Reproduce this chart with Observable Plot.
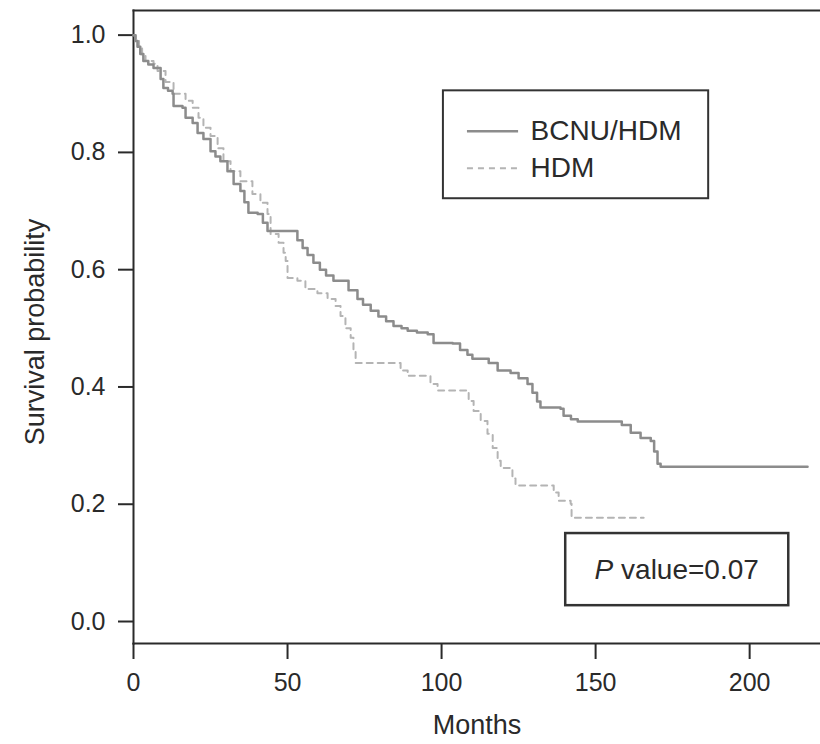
<!DOCTYPE html>
<html>
<head>
<meta charset="utf-8">
<script src="https://cdn.jsdelivr.net/npm/d3@7"></script>
<script src="https://cdn.jsdelivr.net/npm/@observablehq/plot@0.6"></script>
<style>
  html, body { margin: 0; padding: 0; background: #fff; }
  #chart svg { display: block; }
</style>
</head>
<body>
<div id="chart"></div>
<script>
// BCNU/HDM Kaplan–Meier steps (months, survival probability)
const bcnuMonths = [0, 0.6, 1.3, 2.2, 3.2, 4.8, 6.5, 8.8, 9.7, 11.2, 12.7, 13, 15.9, 16.9, 19.2, 20.8, 22.7, 25, 26.6, 28.2, 30.5, 32.5, 34.7, 36, 37.3, 40.3, 42, 43.5, 53.2, 54.9, 56.5, 58.4, 60.5, 62.5, 64.9, 69.8, 72.7, 74.5, 77, 79.5, 82, 84.4, 87, 89, 92, 95.5, 97.4, 103.6, 106, 108.4, 110, 115.3, 118.2, 122.4, 125, 127.9, 129.5, 131, 132.1, 138.6, 139.6, 142, 144.2, 158.5, 161.4, 164.6, 167.9, 169, 170.1, 171.1, 218.8];
const bcnuSurv   = [1.0, 0.99, 0.98, 0.968, 0.956, 0.95, 0.944, 0.925, 0.91, 0.905, 0.90, 0.879, 0.876, 0.859, 0.85, 0.833, 0.823, 0.802, 0.793, 0.785, 0.768, 0.746, 0.734, 0.715, 0.697, 0.695, 0.68, 0.666, 0.65, 0.637, 0.625, 0.612, 0.60, 0.59, 0.581, 0.565, 0.55, 0.54, 0.53, 0.52, 0.512, 0.504, 0.50, 0.496, 0.493, 0.49, 0.475, 0.474, 0.463, 0.455, 0.448, 0.441, 0.428, 0.424, 0.415, 0.405, 0.39, 0.375, 0.365, 0.363, 0.351, 0.345, 0.341, 0.335, 0.322, 0.313, 0.308, 0.29, 0.269, 0.264, 0.264];

// HDM Kaplan–Meier steps
const hdmMonths = [0, 0.8, 1.8, 2.8, 3.9, 6.5, 7.8, 10.4, 13, 16.9, 19.2, 21.1, 22.7, 25, 27.3, 29.2, 31.5, 34.7, 38.6, 41.2, 43.5, 44.5, 47.1, 48.7, 49.4, 50, 53.2, 55.8, 59.7, 63, 65.6, 67.2, 68.8, 70.5, 71.4, 72.1, 86.7, 89, 96.4, 98.7, 108.8, 110.4, 112.7, 114.9, 116.6, 118.2, 119.2, 123, 124, 136.4, 138, 141.9, 142.2, 165.6];
const hdmSurv   = [1.0, 0.99, 0.978, 0.967, 0.956, 0.951, 0.939, 0.92, 0.90, 0.888, 0.876, 0.859, 0.842, 0.828, 0.807, 0.785, 0.768, 0.751, 0.729, 0.714, 0.695, 0.661, 0.646, 0.629, 0.615, 0.586, 0.581, 0.567, 0.56, 0.55, 0.538, 0.521, 0.50, 0.484, 0.462, 0.441, 0.428, 0.419, 0.405, 0.394, 0.376, 0.359, 0.342, 0.32, 0.296, 0.274, 0.262, 0.244, 0.232, 0.22, 0.206, 0.201, 0.177, 0.177];

const xTicks = [0, 50, 100, 150, 200];
const yTicks = [0.0, 0.2, 0.4, 0.6, 0.8, 1.0];
const seriesNames = ["BCNU/HDM", "HDM"];
const xTitle = "Months";
const yTitle = "Survival probability";
const pValueText = "value=0.07";

// annotation boxes expressed in data units
const legendBox = {x1: 100.6, x2: 186.7, y1: 0.721, y2: 0.905};
const legendRows = [
  {name: seriesNames[0], x1: 108.4, x2: 125, y: 0.836},
  {name: seriesNames[1], x1: 108.4, x2: 125, y: 0.773}
];
const pBox = {x1: 140.3, x2: 212.7, y1: 0.027, y2: 0.150};

const bcnu = bcnuMonths.map((t, i) => ({t, s: bcnuSurv[i]}));
const hdm = hdmMonths.map((t, i) => ({t, s: hdmSurv[i]}));

const font = "'Liberation Sans', Arial, Helvetica, sans-serif";
const ink = "#2a2a2a";
const solidGray = "#8c8c8c";
const dashGray = "#b4b4b4";

const chart = Plot.plot({
  width: 820,
  height: 744,
  marginLeft: 133,
  marginRight: 0,
  marginTop: 10,
  marginBottom: 101,
  style: {fontFamily: font, fontSize: "24px", color: ink, background: "#fff"},
  x: {domain: [0, 223], label: null},
  y: {domain: [-0.0375, 1.042], label: null},
  marks: [
    Plot.frame({anchor: "top", stroke: ink, strokeWidth: 2}),
    Plot.frame({anchor: "left", stroke: ink, strokeWidth: 2}),
    Plot.frame({anchor: "bottom", stroke: ink, strokeWidth: 2}),
    Plot.axisX({ticks: xTicks, tickSize: 16, tickPadding: 14, stroke: ink, strokeWidth: 2, fontSize: 25, label: null}),
    Plot.axisY({ticks: yTicks, tickFormat: d3.format(".1f"), tickSize: 15, tickPadding: 13, stroke: ink, strokeWidth: 2, fontSize: 25, label: null}),
    Plot.line(hdm, {x: "t", y: "s", curve: "step-after", stroke: dashGray, strokeWidth: 2, strokeDasharray: "6,5"}),
    Plot.line(bcnu, {x: "t", y: "s", curve: "step-after", stroke: solidGray, strokeWidth: 2.5}),
    // legend box
    Plot.rect([legendBox], {x1: "x1", x2: "x2", y1: "y1", y2: "y2", fill: "#fff", stroke: "#333", strokeWidth: 2}),
    Plot.ruleY([legendRows[0]], {x1: "x1", x2: "x2", y: "y", stroke: solidGray, strokeWidth: 2.5}),
    Plot.ruleY([legendRows[1]], {x1: "x1", x2: "x2", y: "y", stroke: dashGray, strokeWidth: 2, strokeDasharray: "6,5"}),
    Plot.text(legendRows, {x: "x2", y: "y", text: "name", textAnchor: "start", dx: 12, fontSize: 28, fill: ink}),
    // p-value box
    Plot.rect([pBox], {x1: "x1", x2: "x2", y1: "y1", y2: "y2", fill: "#fff", stroke: "#333", strokeWidth: 2.5}),
    // axis titles
    Plot.text([xTitle], {frameAnchor: "bottom", textAnchor: "middle", lineAnchor: "middle", dy: 82, text: d => d, fontSize: 27, fill: ink}),
    Plot.text([yTitle], {frameAnchor: "left", textAnchor: "middle", lineAnchor: "middle", dx: -98, dy: 5, rotate: -90, text: d => d, fontSize: 27, fill: ink})
  ]
});

// P value label with italic P, placed via scales
const sx = chart.scale("x"), sy = chart.scale("y");
const cx = (sx.apply(pBox.x1) + sx.apply(pBox.x2)) / 2;
const cy = (sy.apply(pBox.y1) + sy.apply(pBox.y2)) / 2;
const ns = "http://www.w3.org/2000/svg";
const t = document.createElementNS(ns, "text");
t.setAttribute("x", cx);
t.setAttribute("y", cy);
t.setAttribute("dy", "0.35em");
t.setAttribute("text-anchor", "middle");
t.setAttribute("font-size", "28");
t.setAttribute("font-family", font);
t.setAttribute("fill", ink);
const ts1 = document.createElementNS(ns, "tspan");
ts1.setAttribute("font-style", "italic");
ts1.textContent = "P";
const ts2 = document.createElementNS(ns, "tspan");
ts2.textContent = " " + pValueText;
t.appendChild(ts1); t.appendChild(ts2);
chart.appendChild(t);

document.getElementById("chart").appendChild(chart);
</script>
</body>
</html>
